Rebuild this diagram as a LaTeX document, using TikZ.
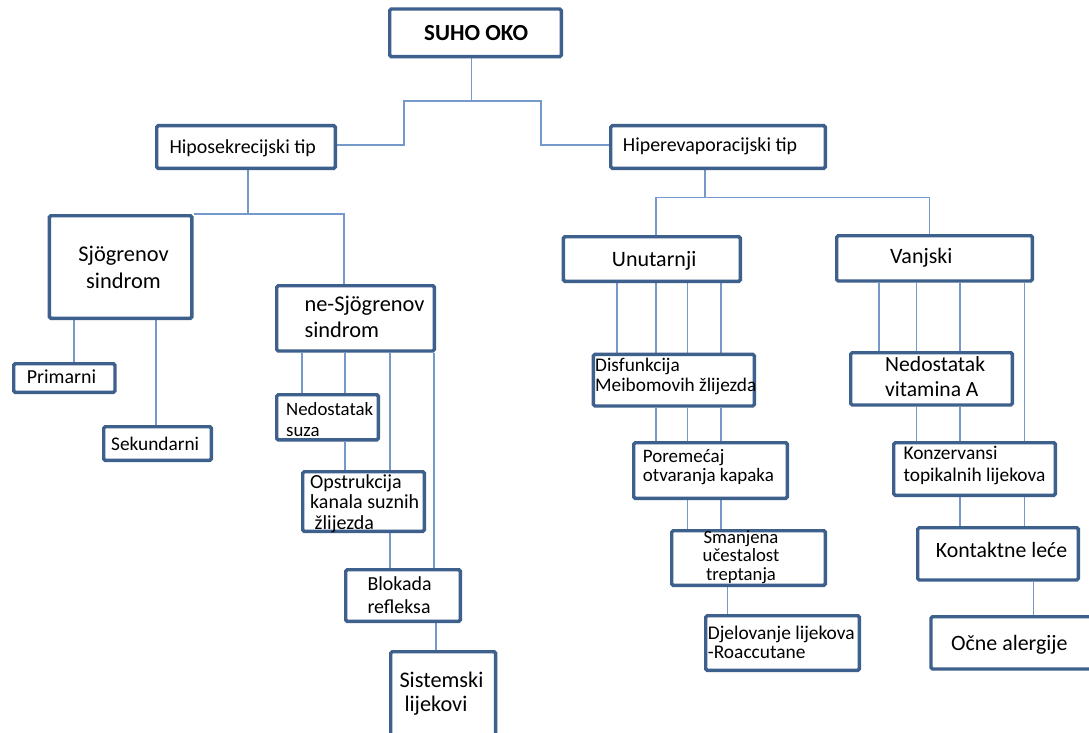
\documentclass[tikz,border=0pt]{standalone}
\usepackage{fontspec}
\setmainfont{Carlito}
\usetikzlibrary{backgrounds}
\definecolor{boxc}{RGB}{62,96,140}
\definecolor{linec}{RGB}{118,153,203}
\newcommand\myfs[2]{\fontsize{#1}{#2}\selectfont}
\newcommand\bx[5]{%
  \pgfmathsetmacro\bxw{#4-#2-3.4}\pgfmathsetmacro\bxh{#5-#3-3.4}%
  \node[box,minimum width=\bxw pt,minimum height=\bxh pt] (#1) at ({(#2+#4)/2},{(#3+#5)/2}) {};}
\begin{document}
\begin{tikzpicture}[x=1pt,y=-1pt,
  box/.style={draw=boxc,line width=3.4pt,fill=white,rounded corners=1.5pt,inner sep=0pt},
  conn/.style={draw=linec,line width=1.5pt},
  txt/.style={anchor=base west,inner sep=0pt,align=left,text=black}]
\useasboundingbox (0,0) rectangle (1089,733);
\clip (0,0) rectangle (1089,733);
% boxes
\bx{suho}{388}{7.3}{563}{58.3}
\bx{hipo}{155}{124}{337}{170}
\bx{hiper}{609}{124}{827}{170}
\bx{sjo}{47.7}{214}{193.5}{320}
\bx{nesjo}{275}{284}{436}{352.7}
\bx{prim}{12}{362}{116.7}{394}
\bx{sek}{102}{425}{213}{462}
\bx{nedsuza}{275}{393}{380}{441.5}
\bx{opstr}{301}{470}{426}{533}
\bx{blok}{344}{568}{462}{623}
\bx{sist}{389}{650}{497.3}{750}
\bx{unut}{561.7}{235}{742}{283}
\bx{vanj}{835}{234}{1034}{282.7}
\bx{disf}{591.7}{352.7}{756}{407.7}
\bx{porem}{632}{441}{789}{500}
\bx{smanj}{670}{529}{827}{587}
\bx{djel}{704}{614}{861}{672}
\bx{nedvit}{849}{351}{1014}{406.7}
\bx{konz}{892}{441}{1057}{497}
\bx{kont}{916}{526}{1080}{581.7}
\bx{ocne}{929.3}{615}{1100}{670.7}
% texts (multi-line nodes are placed at the baseline of their last line)
\node[txt,font=\myfs{23}{26}\bfseries] (t-suho) at (424,40.7) {SUHO OKO};
\node[txt,font=\myfs{19.9}{22}] (t-hipo) at (169.3,153.3) {Hiposekrecijski tip};
\node[txt,font=\myfs{19.9}{22}] (t-hiper) at (622.7,151.7) {Hiperevaporacijski tip};
\node[txt,anchor=base,align=center,font=\myfs{22.4}{26.6}] (t-sjo) at (123.5,288.3) {Sjögrenov\\sindrom};
\node[txt,font=\myfs{22.4}{26}] (t-nesjo) at (304.3,337.7) {ne-Sjögrenov\\sindrom};
\node[txt,font=\myfs{19.9}{22}] (t-prim) at (26.7,383.3) {Primarni};
\node[txt,font=\myfs{19.3}{22}] (t-sek) at (111,450.7) {Sekundarni};
\node[txt,font=\myfs{18.8}{21}] (t-nedsuza) at (286,436) {Nedostatak\\suza};
\node[txt,font=\myfs{20}{20.5}] (t-opstr) at (310,529.3) {Opstrukcija\\kanala suznih\\\hspace*{4.5pt}žlijezda};
\node[txt,font=\myfs{19.9}{23.3}] (t-blok) at (367.3,613.3) {Blokada\\refleksa};
\node[txt,font=\myfs{22.3}{24.4}] (t-sist) at (399.3,711.7) {Sistemski\\\hspace*{5pt}lijekovi};
\node[txt,font=\myfs{22}{26}] (t-unut) at (611.7,266) {Unutarnji};
\node[txt,font=\myfs{22}{26}] (t-vanj) at (890,263.3) {Vanjski};
\node[txt,font=\myfs{19.3}{20}] (t-disf) at (595,391.7) {Disfunkcija\\Meibomovih žlijezda};
\node[txt,font=\myfs{19}{19}] (t-porem) at (642.7,481.7) {Poremećaj\\otvaranja kapaka};
\node[txt,anchor=base,align=center,font=\myfs{18.7}{18.5}] (t-smanj) at (741,580) {Smanjena\\učestalost\\treptanja};
\node[txt,font=\myfs{19.4}{19}] (t-djel) at (707.7,658.3) {Djelovanje lijekova\\-Roaccutane};
\node[txt,font=\myfs{21.6}{25}] (t-nedvit) at (885,396.7) {Nedostatak\\vitamina A};
\node[txt,font=\myfs{19.4}{22.7}] (t-konz) at (903.3,481.7) {Konzervansi\\topikalnih lijekova};
\node[txt,font=\myfs{21.8}{26}] (t-kont) at (935.7,557.7) {Kontaktne leće};
\node[txt,font=\myfs{21.9}{26}] (t-ocne) at (951,650.7) {Očne alergije};
% connectors
\begin{scope}[on background layer]
\fill[white] (0,0) rectangle (1089,733);
\draw[conn] (suho.south -| 471.7,0) -- (471.7,101);
\draw[conn] (hipo.east |- 0,145) -| (404,101) -| (541,145) -- (hiper.west |- 0,145);
\draw[conn] (hipo.south -| 248,0) -- (248,214);
\draw[conn] (sjo.east |- 0,214) -| (nesjo.north -| 344,0);
\draw[conn] (sjo.south -| 74,0) -- (prim.north -| 74,0);
\draw[conn] (sjo.south -| 156,0) -- (sek.north -| 156,0);
\draw[conn] (nesjo.south -| 302,0) -- (nedsuza.north -| 302,0);
\draw[conn] (nesjo.south -| 345,0) -- (nedsuza.north -| 345,0);
\draw[conn] (nedsuza.south -| 345,0) -- (opstr.north -| 345,0);
\draw[conn] (nesjo.south -| 390,0) -- (opstr.north -| 390,0);
\draw[conn] (opstr.south -| 390,0) -- (blok.north -| 390,0);
\draw[conn] (nesjo.south -| 434,0) -- (blok.north -| 434,0);
\draw[conn] (blok.south -| 436,0) -- (sist.north -| 436,0);
\draw[conn] (hiper.south -| 705,0) -- (705,197.7);
\draw[conn] (unut.north -| 656,0) -- (656,197.7) -- (929.3,197.7) -- (vanj.north -| 929.3,0);
\foreach \x in {617,656,687.7,721} \draw[conn] (unut.south -| \x,0) -- (disf.north -| \x,0);
\foreach \x in {656,687.7,721} \draw[conn] (disf.south -| \x,0) -- (porem.north -| \x,0);
\foreach \x in {687.7,721} \draw[conn] (porem.south -| \x,0) -- (smanj.north -| \x,0);
\draw[conn] (smanj.south -| 727.7,0) -- (djel.north -| 727.7,0);
\foreach \x in {879,916.7,960} \draw[conn] (vanj.south -| \x,0) -- (nedvit.north -| \x,0);
\draw[conn] (vanj.south -| 1024.5,0) -- (konz.north -| 1024.5,0);
\foreach \x in {916.7,960} \draw[conn] (nedvit.south -| \x,0) -- (konz.north -| \x,0);
\foreach \x in {960,1024.5} \draw[conn] (konz.south -| \x,0) -- (kont.north -| \x,0);
\draw[conn] (kont.south -| 1033.3,0) -- (ocne.north -| 1033.3,0);
\end{scope}
\end{tikzpicture}
\end{document}
